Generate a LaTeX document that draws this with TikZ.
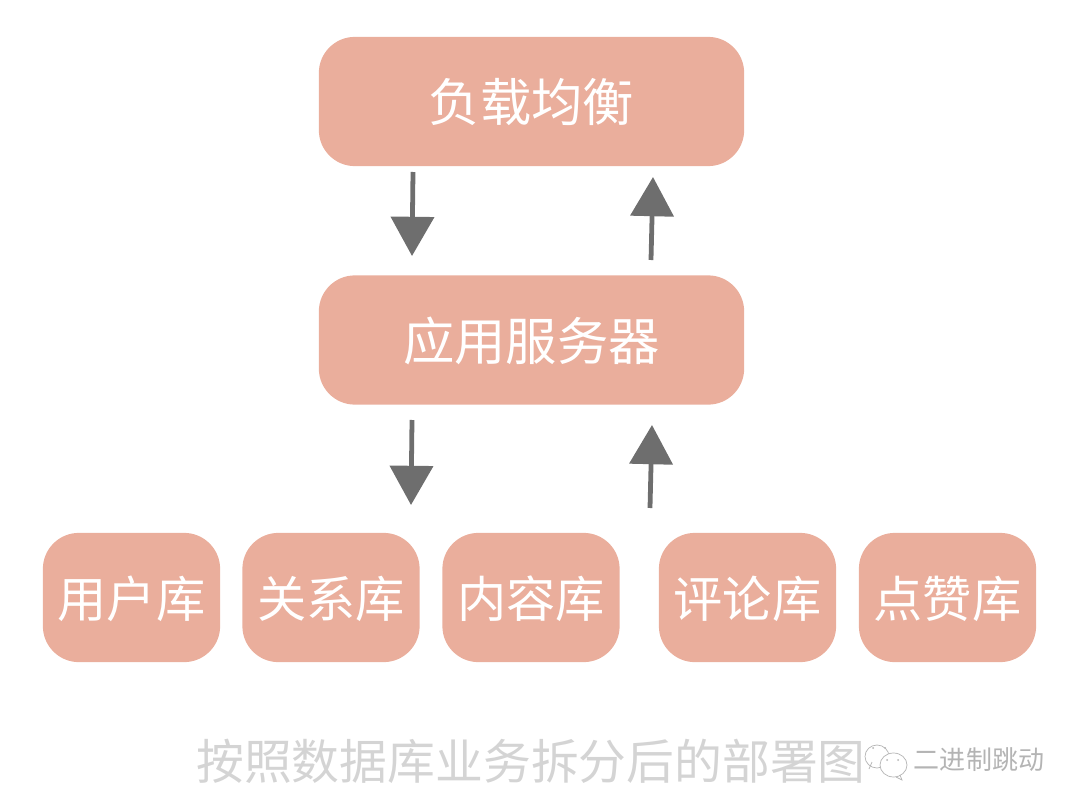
\documentclass[tikz,border=0pt]{standalone}
\usepackage{fontspec}
\setmainfont{Noto Sans CJK SC}
\usetikzlibrary{arrows.meta}
\definecolor{boxfill}{HTML}{EAAE9C}
\definecolor{arrowgray}{HTML}{6E6E6E}
\definecolor{captiongray}{HTML}{D4D4D4}
\definecolor{markgray}{HTML}{B4B4B4}
\begin{document}
\begin{tikzpicture}[x=0.025cm,y=-0.025cm]
\tikzset{s/.style={fill=boxfill,rectangle,rounded corners=0.9cm,minimum height=3.23cm,text=white,text height=33pt,text depth=4pt,inner sep=0pt},
big/.style={s,minimum width=10.63cm,font=\fontsize{36.5}{36.5}\selectfont},
db/.style={s,minimum width=4.43cm,font=\fontsize{35}{35}\selectfont},
flow/.style={draw=arrowgray,line width=3.4pt,-{Triangle[width=1.07cm,length=0.98cm,fill=arrowgray]}}}
\useasboundingbox(0,0)rectangle(1080,808);
\path(531.5,101.5)node[big](lb){负载均衡}(531.5,340)node[big](app){应用服务器};
\path(131.5,597.5)node[db](user){用户库}(331,597.5)node[db](rel){关系库}(531,597.5)node[db](cont){内容库}(747.5,597.5)node[db](comm){评论库}(947.5,597.5)node[db](like){点赞库};
%%Arrow ends
\path(413,172)coordinate(d1s)(412,256)coordinate(d1e)(651,260)coordinate(u1s)(653,177)coordinate(u1e);
\path(412,420)coordinate(d2s)(411,505)coordinate(d2e)(650,508)coordinate(u2s)(652,425)coordinate(u2e);
\foreach \x/\y in {
d1s/d1e,u1s/u1e,
d2s/d2e,u2s/u2e}
\draw[flow](\x)--(\y);
%%Caption
\path(531,761)node[text=captiongray,font=\fontsize{34}{34}\selectfont,inner sep=0pt](cap){按照数据库业务拆分后的部署图};
\path(979,760)node[text=markgray,font=\fontsize{18.5}{18.5}\selectfont,inner sep=0pt](mark){二进制跳动};
%%Icon
\draw[markgray,line width=0.5pt,fill=white](869,769)--(872,762)(877,756.5)ellipse[x radius=12,y radius=11.5];
\draw[markgray,line width=0.5pt,fill=white](893.5,765)ellipse[x radius=13.5,y radius=12];
\draw[markgray,line width=0.5pt](900,775)--(902,780)--(896,777);
\foreach \x/\y in {873/748,885/748,887/760,898/760}
\fill[markgray](\x,\y)circle[radius=1];
\end{tikzpicture}
\end{document}
